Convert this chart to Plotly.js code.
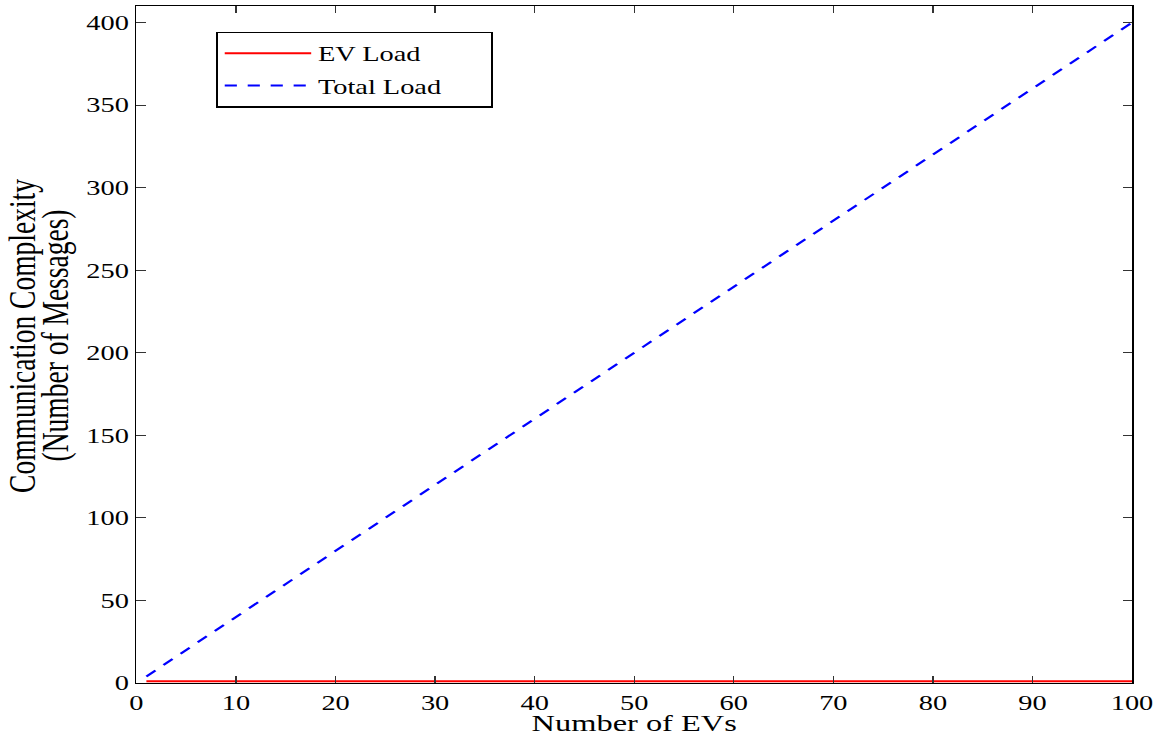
<!DOCTYPE html>
<html><head><meta charset="utf-8">
<script src="https://cdn.plot.ly/plotly-3.0.1.min.js"></script>
<style>
html,body{margin:0;padding:0;background:#fff;overflow:hidden}
#chart{width:855px;height:736px;transform:scaleX(1.350877);transform-origin:0 0}
</style>
</head><body>
<div id="chart"></div>
<script>
const evCount = [1, 10, 20, 30, 40, 50, 60, 70, 80, 90, 100];
const evLoad = [1, 1, 1, 1, 1, 1, 1, 1, 1, 1, 1];
const totalLoad = [4, 40, 80, 120, 160, 200, 240, 280, 320, 360, 400];
const xTicks = [0, 10, 20, 30, 40, 50, 60, 70, 80, 90, 100];
const yTicks = [0, 50, 100, 150, 200, 250, 300, 350, 400];
const seriesNames = ['EV Load', 'Total Load'];
const xTitle = 'Number of EVs';
const yTitleLines = ['Communication Complexity', '(Number of Messages)'];

const fontFam = '"Liberation Serif", "Times New Roman", serif';
const pad = '\u00a0\u00a0\u00a0\u00a0\u00a0\u00a0';
const traces = [
  {x: evCount, y: evLoad, name: seriesNames[0] + pad, legendgroup: 'a', mode: 'lines', line: {color: '#ff0000', width: 2}},
  {x: evCount, y: totalLoad, name: seriesNames[1] + pad, legendgroup: 'b', mode: 'lines', line: {color: '#0000ff', width: 2, dash: '9px,8px'}}
];
const axisCommon = {
  showgrid: false, zeroline: false, showline: true, mirror: 'ticks', linecolor: '#000', linewidth: 1.4,
  ticks: 'inside', ticklen: 7, tickcolor: '#333', tickwidth: 1,
  tickfont: {family: fontFam, size: 21, color: '#000'}
};
const titleFont = {family: fontFam, size: 27.5, color: '#000'};
const layout = {
  width: 855, height: 736,
  margin: {l: 101, r: 17, t: 6, b: 53},
  paper_bgcolor: '#fff', plot_bgcolor: '#fff',
  font: {family: fontFam, color: '#000'},
  showlegend: true,
  legend: {x: 0.08, y: 0.962, xanchor: 'left', yanchor: 'top', bgcolor: '#fff', bordercolor: '#000', borderwidth: 1.4,
           font: {family: fontFam, size: 21, color: '#000'}, itemwidth: 64, tracegroupgap: 2},
  xaxis: Object.assign({}, axisCommon, {range: [0, 100], tickvals: xTicks,
    title: {text: xTitle, font: {family: fontFam, size: 24, color: '#000'}, standoff: 0}}),
  yaxis: Object.assign({}, axisCommon, {range: [0, 410], tickvals: yTicks}),
  annotations: [
    {text: yTitleLines[0], xref: 'paper', yref: 'paper', x: 0, y: 0.5126, xanchor: 'center', yanchor: 'middle',
     xshift: -84, textangle: -90, showarrow: false, font: titleFont},
    {text: yTitleLines[1], xref: 'paper', yref: 'paper', x: 0, y: 0.5126, xanchor: 'center', yanchor: 'middle',
     xshift: -59.5, textangle: -90, showarrow: false, font: titleFont}
  ]
};
Plotly.newPlot('chart', traces, layout, {displayModeBar: false, staticPlot: true});
</script>
</body></html>
